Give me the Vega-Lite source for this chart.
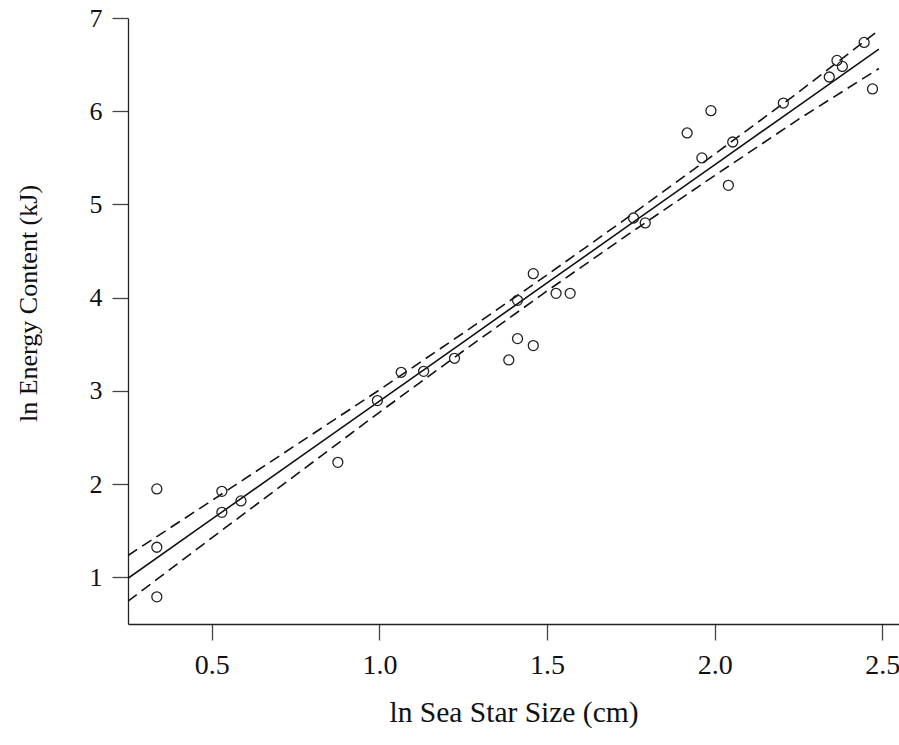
{
  "$schema": "https://vega.github.io/schema/vega-lite/v6.json",
  "width": 771,
  "height": 606,
  "autosize": {"type": "none"},
  "padding": {"left": 128, "top": 18, "right": 0, "bottom": 121},
  "background": "white",
  "config": {
    "view": {"stroke": null},
    "font": "Liberation Serif",
    "axis": {
      "grid": false,
      "domainColor": "#222",
      "domainWidth": 1.3,
      "tickColor": "#444",
      "tickWidth": 1.3,
      "tickSize": 16,
      "labelFont": "Liberation Serif",
      "labelColor": "#111",
      "titleFont": "Liberation Serif",
      "titleFontWeight": "normal",
      "titleColor": "#111"
    }
  },
  "datasets": {
    "pts": [
      {"size": 0.336, "energy": 1.949},
      {"size": 0.336, "energy": 1.323},
      {"size": 0.336, "energy": 0.791},
      {"size": 0.530, "energy": 1.923},
      {"size": 0.530, "energy": 1.698},
      {"size": 0.587, "energy": 1.820},
      {"size": 0.876, "energy": 2.234},
      {"size": 0.994, "energy": 2.896},
      {"size": 1.065, "energy": 3.200},
      {"size": 1.132, "energy": 3.210},
      {"size": 1.224, "energy": 3.350},
      {"size": 1.386, "energy": 3.332},
      {"size": 1.412, "energy": 3.561},
      {"size": 1.412, "energy": 3.972},
      {"size": 1.459, "energy": 3.486},
      {"size": 1.459, "energy": 4.258},
      {"size": 1.527, "energy": 4.047},
      {"size": 1.569, "energy": 4.047},
      {"size": 1.758, "energy": 4.855},
      {"size": 1.793, "energy": 4.802},
      {"size": 1.918, "energy": 5.767},
      {"size": 1.962, "energy": 5.499},
      {"size": 1.989, "energy": 6.006},
      {"size": 2.041, "energy": 5.205},
      {"size": 2.054, "energy": 5.670},
      {"size": 2.205, "energy": 6.088},
      {"size": 2.342, "energy": 6.367},
      {"size": 2.365, "energy": 6.545},
      {"size": 2.381, "energy": 6.481},
      {"size": 2.446, "energy": 6.738},
      {"size": 2.471, "energy": 6.239}
    ],
    "band": [
      {"size": 0.25, "fit": 0.990, "lwr": 0.745, "upr": 1.235},
      {"size": 0.50, "fit": 1.624, "lwr": 1.424, "upr": 1.824},
      {"size": 0.75, "fit": 2.257, "lwr": 2.097, "upr": 2.417},
      {"size": 1.00, "fit": 2.891, "lwr": 2.771, "upr": 3.011},
      {"size": 1.25, "fit": 3.524, "lwr": 3.428, "upr": 3.620},
      {"size": 1.50, "fit": 4.158, "lwr": 4.072, "upr": 4.244},
      {"size": 1.75, "fit": 4.791, "lwr": 4.698, "upr": 4.884},
      {"size": 2.00, "fit": 5.425, "lwr": 5.310, "upr": 5.540},
      {"size": 2.25, "fit": 6.058, "lwr": 5.913, "upr": 6.203},
      {"size": 2.49, "fit": 6.666, "lwr": 6.458, "upr": 6.870}
    ]
  },
  "layer": [
    {
      "data": {"name": "band"},
      "mark": {"type": "line", "color": "#111", "strokeWidth": 1.6, "clip": true},
      "encoding": {
        "x": {
          "field": "size", "type": "quantitative",
          "scale": {"domain": [0.25, 2.55], "nice": false, "zero": false},
          "axis": {"values": [0.5, 1.0, 1.5, 2.0, 2.5], "format": ".1f", "title": "ln Sea Star Size (cm)", "labelFontSize": 28, "titleFontSize": 29.5, "labelPadding": 11, "titleY": 88, "titleBaseline": "middle"}
        },
        "y": {
          "field": "fit", "type": "quantitative",
          "scale": {"domain": [0.5, 7], "nice": false, "zero": false},
          "axis": {"values": [1, 2, 3, 4, 5, 6, 7], "format": "d", "title": "ln Energy Content (kJ)", "labelFontSize": 26, "titleFontSize": 26, "labelPadding": 10, "titleX": -100, "titleY": 285, "titleBaseline": "middle"}
        }
      }
    },
    {
      "data": {"name": "band"},
      "mark": {"type": "line", "color": "#111", "strokeWidth": 1.6, "strokeDash": [11, 6], "clip": true},
      "encoding": {
        "x": {"field": "size", "type": "quantitative"},
        "y": {"field": "upr", "type": "quantitative"}
      }
    },
    {
      "data": {"name": "band"},
      "mark": {"type": "line", "color": "#111", "strokeWidth": 1.6, "strokeDash": [11, 6], "clip": true},
      "encoding": {
        "x": {"field": "size", "type": "quantitative"},
        "y": {"field": "lwr", "type": "quantitative"}
      }
    },
    {
      "data": {"name": "pts"},
      "mark": {"type": "point", "shape": "circle", "filled": false, "size": 100, "stroke": "#222", "strokeWidth": 1.3, "opacity": 1},
      "encoding": {
        "x": {"field": "size", "type": "quantitative"},
        "y": {"field": "energy", "type": "quantitative"}
      }
    }
  ]
}
